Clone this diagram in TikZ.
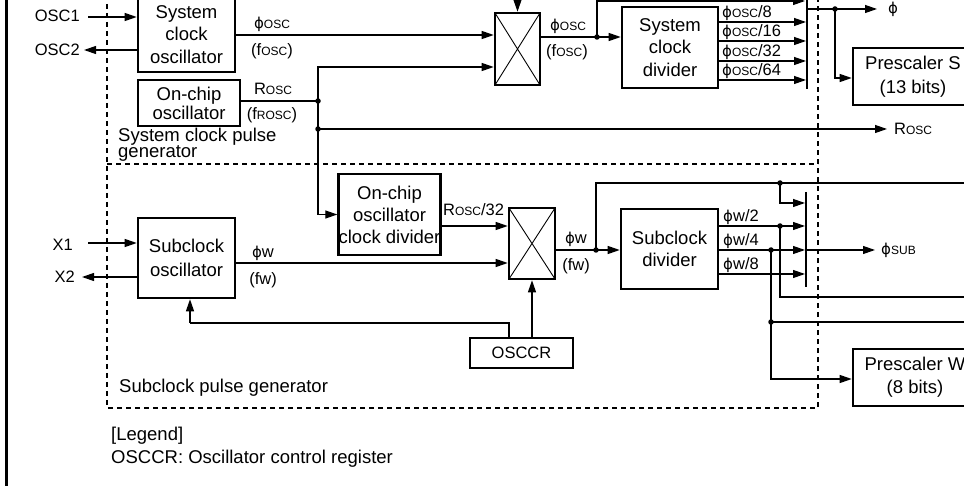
\documentclass[tikz,border=0pt]{standalone}
\usepackage{fontspec}
\setmainfont{Liberation Sans}
\newfontfamily\phifont{DejaVu Sans}
\usetikzlibrary{arrows.meta}
\newcommand{\smc}[1]{{\fontsize{12}{12}\selectfont #1}}
\newcommand{\ph}{{\phifont\fontsize{15}{15}\selectfont ϕ}}
\begin{document}
\begin{tikzpicture}[x=1pt,y=-1pt,
  blk/.style={draw, line width=2.6pt, align=center, font=\fontsize{18.5}{22.5}\selectfont, inner sep=0pt},
  lbl/.style={font=\fontsize{16.5}{18}\selectfont, inner sep=0pt},
  txt/.style={font=\fontsize{18.5}{22}\selectfont, inner sep=0pt, anchor=west},
  wire/.style={line width=1.2pt},
  arr/.style={wire, -{Triangle[length=12pt,width=8pt]}},
  jdot/.style={circle, fill, inner sep=0pt, minimum size=5.5pt},
  frame/.style={dash pattern=on 5pt off 4pt, line width=1.1pt},
  bar/.style={line width=2pt},
  xline/.style={line width=0.9pt},
]
\clip (0,0) rectangle (964,486);
% left border
\draw[line width=3pt] (6,-5) -- (6,490);
% dashed frames
\draw[frame] (107,-5) -- (107,408) -- (818,408) -- (818,-5);
\draw[frame] (107,164) -- (818,164);

% ---------- upper blocks ----------
\node[blk, minimum width=97pt, minimum height=75pt] (sco) at (186.5,34.5) {System\\clock\\oscillator};
\node[blk, minimum width=102pt, minimum height=46pt, font=\fontsize{18.5}{19}\selectfont] (oco) at (189,103) {On-chip\\oscillator};
\node[blk, minimum width=45pt, minimum height=72pt] (mux1) at (517.5,49) {};
\draw[xline] ([shift={(1.3,1.3)}]mux1.north west) -- ([shift={(-1.3,-1.3)}]mux1.south east)
             ([shift={(-1.3,1.3)}]mux1.north east) -- ([shift={(1.3,-1.3)}]mux1.south west);
\node[blk, minimum width=96pt, minimum height=81pt] (scd) at (670,47.5) {System\\clock\\divider};
\node[blk, minimum width=120pt, minimum height=57pt, font=\fontsize{18.5}{24}\selectfont] (psS) at (913,76.5) {Prescaler S\\(13 bits)};

% OSC1 / OSC2
\node[lbl, anchor=east] (osc1) at (80,16) {OSC1};
\node[lbl, anchor=east] (osc2) at (80,50) {OSC2};
\coordinate (osc1s) at (88,17);
\coordinate (osc2e) at (84,50);
\draw[arr] (osc1s) -- (sco.west |- osc1s);
\draw[arr] (sco.west |- osc2e) -- (osc2e);

% phi osc into mux1
\draw[arr] (sco.east |- 0,35) -- (mux1.west |- 0,35);
\node[lbl] at (272,24) {\ph\smc{OSC}};
\node[lbl] at (272,51) {(f\smc{OSC})};

% Rosc
\coordinate (j1) at (318,101);
\coordinate (j2) at (318,129);
\draw[wire] (oco.east |- j1) -- (j1);
\node[lbl] at (273,89) {R\smc{OSC}};
\node[lbl] at (272,115) {(f\smc{ROSC})};
\draw[arr] (j1) |- (mux1.west |- 0,67);
\draw[wire] (j1) -- (j2);
\coordinate (roscend) at (887,129);
\draw[arr] (j2) -- (roscend);
\node[lbl, anchor=west] at (894,129) {R\smc{OSC}};

% mux1 control from above
\coordinate (m1top) at (517.5,-3);
\draw[arr] (m1top) -- (mux1.north);

% mux1 output
\coordinate (j3) at (597,37);
\draw[wire] (mux1.east |- j3) -- (j3);
\draw[arr] (j3) -- (scd.west |- j3);
\node[lbl] at (568,26) {\ph\smc{OSC}};
\node[lbl] at (567,52) {(f\smc{OSC})};
\coordinate (b1top) at (805,1);
\draw[arr] (j3) |- (b1top);

% divider outputs
\draw[bar] (807,-3) coordinate (b1t) -- (807,89) coordinate (b1b);
\foreach \yy/\lab in {22/8, 41/16, 61/32, 80/64}{
  \coordinate (t) at (806,\yy);
  \draw[arr] (scd.east |- t) -- (t);
  \node[lbl, anchor=south west] at (722,\yy-1.5) {\ph\smc{OSC}/\lab};
}

% phi output
\coordinate (b1o) at (807,9);
\coordinate (j4) at (835,9);
\coordinate (phiend) at (877,9);
\draw[wire] (b1o) -- (j4);
\draw[arr] (j4) -- (phiend);
\node[lbl, anchor=west] at (888,9) {\ph};
\draw[arr] (j4) |- (psS.west |- 0,78);

% system clock pulse generator label
\node[txt] at (118,136.5) {System clock pulse};
\node[txt] at (118,153.5) {generator};

% ---------- lower blocks ----------
\node[blk, minimum width=99pt, minimum height=81pt, font=\fontsize{18.5}{22}\selectfont] (ocd) at (389.5,214.5) {On-chip\\oscillator\\clock divider};
\node[blk, minimum width=46pt, minimum height=71pt] (mux2) at (532,243.5) {};
\draw[xline] ([shift={(1.3,1.3)}]mux2.north west) -- ([shift={(-1.3,-1.3)}]mux2.south east)
             ([shift={(-1.3,1.3)}]mux2.north east) -- ([shift={(1.3,-1.3)}]mux2.south west);
\node[blk, minimum width=97pt, minimum height=80pt, font=\fontsize{18.5}{23.5}\selectfont] (subo) at (186.5,258) {Subclock\\oscillator};
\node[blk, minimum width=97pt, minimum height=80pt, font=\fontsize{18.5}{22}\selectfont] (subd) at (669.5,249) {Subclock\\divider};
\node[blk, minimum width=103pt, minimum height=30pt, font=\fontsize{16.5}{18}\selectfont] (osccr) at (521.5,353) {OSCCR};
\node[blk, minimum width=124pt, minimum height=57pt, font=\fontsize{18.5}{23}\selectfont] (psW) at (915,377.5) {Prescaler W\\(8 bits)};

% Rosc down to on-chip divider
\draw[arr] (j2) |- (ocd.west);

% X1 / X2
\node[lbl, anchor=east] (x1) at (73,245) {X1};
\node[lbl, anchor=east] (x2) at (75,277) {X2};
\coordinate (x1s) at (88,243);
\coordinate (x2e) at (82,277);
\draw[arr] (x1s) -- (subo.west |- x1s);
\draw[arr] (subo.west |- x2e) -- (x2e);

% into mux2
\draw[arr] (ocd.east |- 0,226) -- (mux2.west |- 0,226);
\node[lbl, anchor=west] at (443,210) {R\smc{OSC}/32};
\draw[arr] (subo.east |- 0,263) -- (mux2.west |- 0,263);
\node[lbl] at (263,253) {\ph w};
\node[lbl] at (263,280) {(fw)};

% mux2 output
\coordinate (j5) at (596,250);
\draw[wire] (mux2.east |- j5) -- (j5);
\draw[arr] (j5) -- (subd.west |- j5);
\node[lbl] at (576,239) {\ph w};
\node[lbl] at (576,266) {(fw)};
\coordinate (r1) at (970,183);
\draw[wire] (j5) |- (r1);
\coordinate (j6) at (780,183);
\coordinate (b2a) at (805,203);
\draw[arr] (j6) |- (b2a);

% subclock divider outputs
\draw[bar] (806,192) -- (806,287);
\foreach \yy/\lab in {226/2, 250/4, 274/8}{
  \coordinate (t) at (805,\yy);
  \draw[arr] (subd.east |- t) -- (t);
  \node[lbl, anchor=south west] at (723,\yy-1.5) {\ph w/\lab};
}
\coordinate (b2o) at (806,250);
\coordinate (subend) at (875,250);
\draw[arr] (b2o) -- (subend);
\node[lbl, anchor=west] at (881,250) {\ph\smc{SUB}};

\coordinate (j7) at (780,226);
\coordinate (r2) at (970,297);
\draw[wire] (j7) |- (r2);
\coordinate (j8) at (771,250);
\coordinate (j9) at (771,322);
\coordinate (r3) at (970,322);
\draw[wire] (j8) -- (j9) -- (r3);
\draw[arr] (j9) |- (psW.west |- 0,379);

% OSCCR connections
\coordinate (fb1) at (509,323);
\coordinate (fb2) at (190,323);
\draw[wire] (osccr.north -| fb1) -- (fb1) -- (fb2);
\draw[arr] (fb2) -- (subo.south -| fb2);
\draw[arr] (osccr.north -| mux2.south) -- (mux2.south);

% junction dots
\foreach \j in {j1,j2,j3,j4,j5,j6,j7,j8,j9}{
  \node[jdot] at (\j) {};
}

% texts
\node[txt] at (119,388) {Subclock pulse generator};
\node[txt] at (111,436) {[Legend]};
\node[txt] at (111,459) {OSCCR: Oscillator control register};
\end{tikzpicture}
\end{document}
